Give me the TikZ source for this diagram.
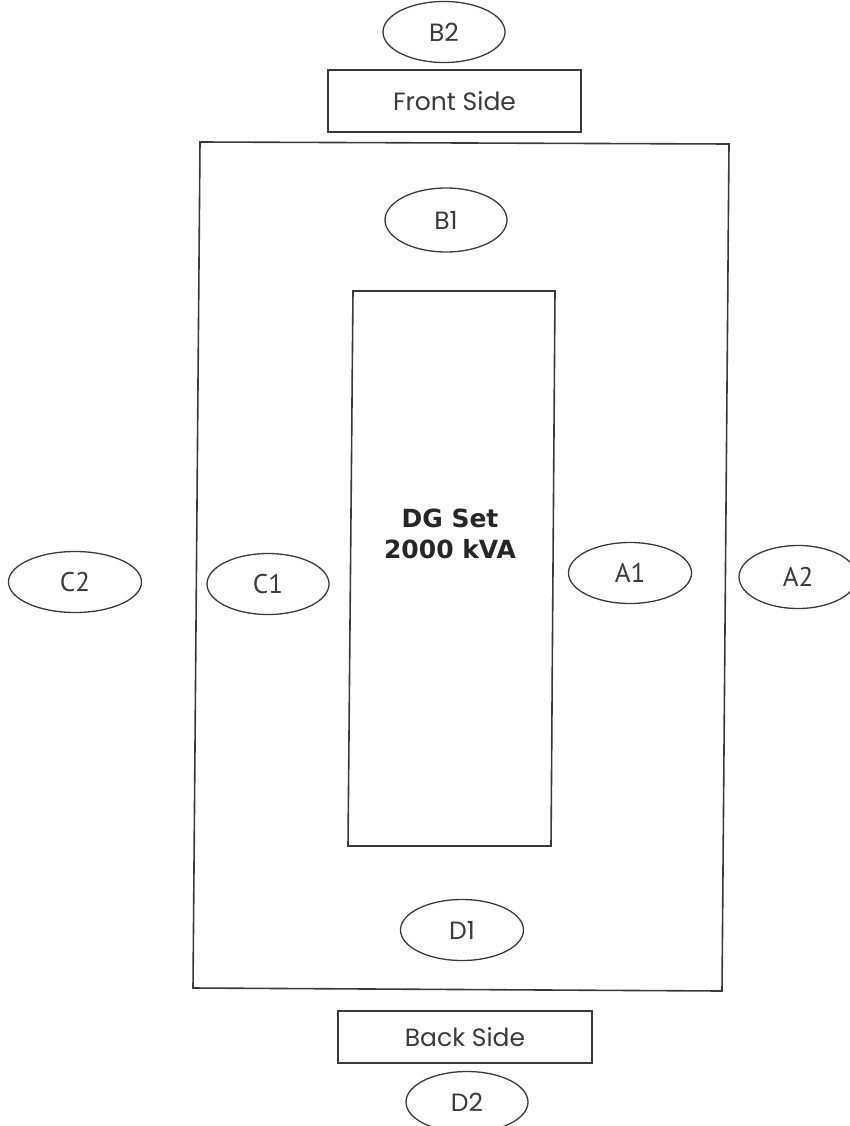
\documentclass[tikz,border=0pt]{standalone}
\usepackage{fontspec}
\usetikzlibrary{shapes.geometric}
\newfontfamily\gothic{Poppins}
\newfontfamily\labfont{PT Sans}
\newfontfamily\dgfont{DejaVu Sans}
\definecolor{ink}{HTML}{3A3A3A}
\begin{document}
\begin{tikzpicture}[x=1pt,y=-1pt,
  spot/.style={ellipse,draw=ink,line width=1.3pt,inner sep=0pt,minimum width=122pt,minimum height=61pt},
  bspot/.style={spot,font=\gothic\fontsize{25}{29}\selectfont,text=ink},
  aspot/.style={spot,font=\labfont\fontsize{27}{31}\selectfont,text=ink},
  sidebox/.style={rectangle,draw=ink,line width=1.5pt,font=\gothic\fontsize{25}{29}\selectfont,text=ink,inner sep=0pt},
  wall/.style={draw=ink,line width=1.6pt,line join=miter}]
\fill[white] (0,0) rectangle (849,1126);
\useasboundingbox (0,0) rectangle (849,1126);
% outer room and DG set footprint
\draw[wall] (200,142) -- (729,144) -- (722,991) -- (193,988) -- cycle;
\draw[wall] (353,291) -- (555,291) -- (551,846) -- (348,846) -- cycle;
\node[font=\dgfont\bfseries\fontsize{25}{31}\selectfont,align=center,text=black!85] (dg) at (450,534) {DG Set\\2000 kVA};
% side labels
\node[sidebox,minimum width=253pt,minimum height=62pt] (front) at (454.5,101) {Front Side};
\node[sidebox,minimum width=254pt,minimum height=52pt] (back) at (465,1037) {Back Side};
% measuring points
\node[bspot] (B2) at (444,32) {B2};
\node[bspot,minimum height=64pt] (B1) at (446,220) {B1};
\node[aspot,minimum width=133pt] (C2) at (75,582) {C2};
\node[aspot] (C1) at (268,584) {C1};
\node[aspot,minimum width=123pt] (A1) at (630,573) {A1};
\node[aspot,minimum width=118pt,minimum height=63pt] (A2) at (798,577) {A2};
\node[bspot,minimum width=123pt] (D1) at (462,930) {D1};
\node[bspot] (D2) at (467,1102) {D2};
\end{tikzpicture}
\end{document}
